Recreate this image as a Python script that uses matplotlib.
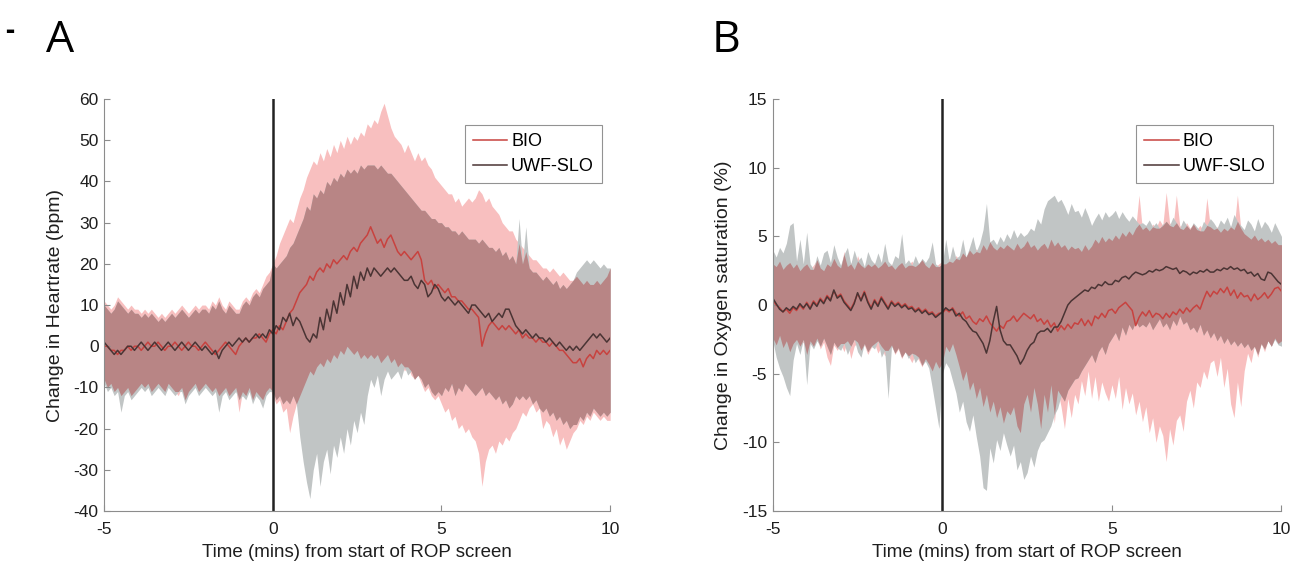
import numpy as np
import matplotlib
matplotlib.use("Agg")
import matplotlib.pyplot as plt

plt.rcParams["font.family"] = ["Liberation Sans", "DejaVu Sans"]
plt.rcParams["axes.unicode_minus"] = False

# time axis: -5 .. 10 min, one sample every 0.1 min
time_min = np.round(np.arange(151) * 0.1 - 5, 1)

# ---------------- Panel A: heart rate (bpm) ----------------
A_bio_hi = [
    11, 10, 9, 10, 12, 11, 10, 9, 10, 9,
    9, 8, 9, 8, 9, 8, 7, 8, 7, 8,
    9, 8, 9, 10, 9, 8, 9, 10, 9, 10,
    10, 9, 11, 10, 12, 10, 9, 11, 10, 9,
    9, 11, 12, 11, 13, 14, 13, 15, 17, 18,
    20, 22, 25, 27, 29, 31, 30, 33, 36, 38,
    41, 43, 45, 44, 47, 45, 48, 46, 49, 47,
    50, 48, 51, 49, 51, 50, 52, 51, 54, 53,
    55, 54, 57, 59, 56, 53, 51, 50, 49, 47,
    49, 47, 45, 47, 45, 46, 44, 43, 41, 40,
    39, 38, 37, 37, 35, 36, 34, 35, 36, 35,
    36, 38, 37, 35, 36, 34, 33, 32, 30, 29,
    28, 28, 26, 25, 24, 23, 22, 21, 21, 20,
    19, 19, 18, 19, 18, 17, 18, 17, 16, 16,
    17, 16, 15, 16, 15, 15, 16, 15, 16, 17,
    19]
A_bio_lo = [
    -8, -10, -9, -11, -10, -12, -11, -10, -12, -11,
    -10, -9, -10, -9, -11, -10, -9, -10, -11, -9,
    -10, -11, -12, -10, -13, -11, -10, -9, -11, -10,
    -9, -10, -11, -10, -12, -11, -10, -12, -11, -10,
    -16, -11, -12, -10, -13, -11, -12, -13, -11, -10,
    -12, -14, -13, -16, -15, -21, -17, -14, -12, -10,
    -8, -6, -7, -5, -4, -5, -3, -4, -2, -3,
    -1, -2, 0, -1, -2, -1, -3, -2, -3, -2,
    -3, -2, -4, -3, -2, -4, -3, -5, -4, -6,
    -5, -7, -8, -7, -9, -11, -10, -12, -13, -12,
    -14, -16, -15, -18, -17, -20, -19, -21, -20, -22,
    -23, -26, -34, -28, -25, -24, -26, -23, -24, -22,
    -23, -21, -20, -18, -16, -17, -15, -14, -16, -15,
    -20, -18, -19, -22, -20, -24, -22, -25, -23, -21,
    -20, -18, -19, -17, -18, -16, -17, -18, -17, -18,
    -18]
A_uwf_hi = [
    10, 9, 8, 9, 11, 10, 9, 8, 9, 8,
    8, 7, 8, 7, 8, 7, 6, 7, 6, 7,
    8, 7, 8, 9, 8, 7, 8, 9, 8, 9,
    9, 8, 10, 9, 11, 9, 8, 10, 9, 8,
    8, 10, 11, 10, 12, 13, 12, 14, 15, 16,
    20, 19, 20, 21, 22, 24, 25, 27, 29, 31,
    34, 33, 37, 36, 38, 37, 40, 39, 41, 40,
    42, 41, 43, 42, 43, 42, 44, 43, 44, 44,
    44, 43, 44, 43, 42, 42, 41, 40, 39, 38,
    37, 36, 35, 34, 33, 33, 32, 31, 31, 30,
    30, 29, 29, 28, 28, 27, 28, 27, 26, 26,
    26, 25, 26, 25, 24, 24, 23, 24, 22, 23,
    21, 22, 20, 31, 20, 29, 19, 18, 18, 17,
    16, 17, 16, 15, 16, 14, 15, 14, 15, 16,
    18, 19, 20, 21, 20, 21, 20, 19, 20, 19,
    19]
A_uwf_lo = [
    -9, -11, -10, -12, -11, -16, -12, -11, -13, -12,
    -11, -10, -11, -10, -12, -11, -10, -11, -12, -10,
    -11, -12, -11, -11, -14, -12, -11, -10, -12, -11,
    -10, -11, -12, -11, -16, -12, -11, -13, -12, -11,
    -13, -12, -13, -11, -14, -12, -13, -15, -12, -11,
    -11, -13, -12, -14, -13, -14, -12, -14, -22, -28,
    -33, -37, -30, -26, -34, -28, -25, -31, -24, -27,
    -22, -26, -20, -24, -18, -21, -16, -19, -12, -8,
    -10, -7, -12, -8, -6, -8, -7, -6, -8, -5,
    -7, -6, -8, -7, -8, -10, -9, -11, -12, -11,
    -12, -10, -11, -9, -12, -10, -11, -9, -10, -11,
    -12, -11, -10, -12, -11, -12, -13, -12, -14, -13,
    -15, -14, -12, -13, -12, -13, -12, -14, -13, -15,
    -16, -15, -17, -16, -18, -17, -19, -18, -20, -19,
    -19, -17, -18, -16, -17, -15, -16, -17, -16, -17,
    -16]
A_bio_mean = [
    0, 0, -1, -1, -2, -1, -1, 0, -1, 0,
    0, -1, 0, 1, 0, 0, 1, 0, -1, 0,
    0, 1, 0, -1, 0, 1, 0, 0, -1, 0,
    1, 0, -1, -2, -1, 0, 1, 0, -1, -2,
    0, 1, 2, 1, 2, 2, 3, 2, 1, 3,
    4, 3, 5, 4, 6, 8, 9, 11, 13, 14,
    15, 17, 16, 18, 19, 18, 20, 19, 21, 20,
    21, 22, 21, 23, 24, 23, 25, 26, 27, 29,
    27, 25, 26, 24, 26, 27, 25, 23, 22, 23,
    22, 21, 22, 23, 21, 16, 15, 16, 14, 15,
    14, 13, 14, 12, 12, 11, 11, 10, 9, 9,
    8, 7, 0, 3, 5, 6, 5, 4, 5, 4,
    5, 4, 3, 4, 2, 3, 2, 2, 1, 2,
    1, 1, 0, 1, 0, -1, -1, -2, -3, -4,
    -4, -3, -5, -3, -2, -3, -1, -2, -1, -2,
    -1]
A_uwf_mean = [
    1, 0, -1, -2, -1, -2, -1, 0, 0, -1,
    0, 1, 0, -1, 0, 1, 0, -1, 0, 1,
    0, -1, 0, 1, 0, -1, 0, 1, 0, -1,
    0, -1, -2, -1, -3, -1, 0, 1, 0, 1,
    2, 1, 2, 1, 2, 3, 2, 3, 2, 4,
    3, 5, 4, 7, 6, 8, 5, 7, 6, 4,
    2, 1, 3, 2, 7, 4, 9, 6, 11, 8,
    13, 10, 15, 12, 17, 14, 18, 16, 19, 17,
    19, 18, 17, 18, 19, 18, 19, 18, 17, 16,
    16, 17, 15, 14, 16, 15, 12, 13, 15, 14,
    12, 11, 12, 11, 10, 11, 10, 9, 8, 10,
    10, 9, 8, 7, 8, 6, 7, 8, 7, 9,
    9, 7, 5, 4, 3, 4, 3, 2, 3, 2,
    2, 1, 2, 1, 0, 1, 0, -1, 0, -1,
    0, -1, 0, 1, 2, 3, 2, 3, 2, 1,
    2]

# ---------------- Panel B: oxygen saturation (%) ----------------
B_bio_hi = [
    3.0, 2.8, 3.2, 2.6, 2.9, 3.1, 2.7, 3.0, 2.5, 2.8,
    3.0, 2.6, 2.9, 3.3, 2.7, 2.5, 3.0, 2.8, 3.4, 2.9,
    2.7, 3.9, 2.8, 3.1, 2.6, 3.6, 2.9, 2.7, 3.0, 2.8,
    3.1, 2.7, 2.9, 3.2, 2.8, 3.0, 2.6, 2.9, 3.1, 2.7,
    2.9, 3.2, 2.8, 3.0, 3.3, 2.9, 2.7, 3.1, 2.8, 3.0,
    3.2, 3.0, 3.4, 3.1, 3.6, 3.3, 3.8, 3.5, 4.0, 3.7,
    4.1, 3.8, 4.4, 4.0, 4.6, 4.2, 4.0, 4.3, 4.1, 4.4,
    4.2, 4.0, 4.5, 4.1, 4.3, 4.7, 4.2, 4.4, 4.0, 4.3,
    4.5, 4.1, 4.8, 4.3, 4.6, 4.2, 4.4, 4.0, 4.3, 4.1,
    4.2, 3.9, 4.4, 4.0, 4.3, 4.8, 4.5, 5.0, 4.6, 4.9,
    4.7, 5.1, 4.8, 5.3, 5.0, 5.4, 5.1, 5.6, 8.0, 5.5,
    5.7, 5.4, 5.9, 5.6, 6.2, 5.8, 8.2, 6.0, 5.7, 8.0,
    5.8, 5.5, 6.0, 5.6, 5.9, 5.5, 5.8, 5.4, 7.8, 5.7,
    5.5, 5.7, 5.3, 5.6, 5.4, 5.8, 5.5, 8.0, 5.6, 5.2,
    5.0, 4.8, 5.1, 4.7, 4.9, 4.6, 4.8, 4.5, 4.7, 4.4,
    4.4]
B_bio_lo = [
    -2.4, -2.9, -2.2, -3.1, -2.6, -3.4, -2.8, -2.5, -3.0, -2.7,
    -3.6, -2.6, -3.0, -2.4, -3.2, -2.7, -3.8, -4.4, -2.9, -3.3,
    -2.8, -3.4, -2.6, -3.9, -3.0, -2.7, -3.3, -2.9, -3.6, -3.1,
    -2.8, -3.5, -3.0, -3.7, -3.3, -2.9, -3.6, -3.2, -3.9, -3.4,
    -3.7, -4.2, -3.6, -4.0, -4.5, -3.9, -4.3, -4.8, -4.1, -4.6,
    -4.2, -3.0, -3.4, -2.8, -3.6, -4.5, -5.5, -4.8, -6.2, -5.6,
    -6.8, -6.0, -7.4, -6.5, -7.8, -7.0, -8.2, -7.4, -8.6, -7.7,
    -8.0, -7.4, -8.8, -9.3, -7.2, -6.5, -7.8, -6.0, -7.2, -9.0,
    -6.5, -7.8, -5.8, -8.6, -6.2, -7.4, -9.0, -6.8, -8.2, -6.5,
    -7.2, -5.5, -6.6, -4.8, -6.8, -5.2, -7.0, -5.6, -6.4, -7.0,
    -5.8, -6.8, -5.2, -7.6, -6.0, -7.2, -6.4, -8.0, -7.0, -8.5,
    -7.4, -9.3, -8.2, -10.0, -8.8, -9.5, -11.4, -9.0, -10.2, -8.4,
    -8.0, -9.2, -7.0, -6.2, -7.5, -5.6, -6.0, -4.8, -5.4, -4.2,
    -4.0, -5.2, -3.8, -6.0, -4.6, -7.2, -8.2, -5.6, -7.4, -4.8,
    -3.5, -4.2, -3.0, -3.8, -2.8, -3.4, -2.6, -3.0, -2.4, -2.8,
    -2.6]
B_uwf_hi = [
    4.0, 3.5, 4.2, 3.8, 4.5, 5.8, 6.0, 3.2, 4.8, 3.0,
    5.3, 3.0, 2.6, 3.6, 2.9, 3.8, 4.0, 3.1, 4.4, 3.5,
    2.9, 3.7, 4.2, 3.0, 4.0, 3.2, 3.5, 2.8, 3.9, 3.3,
    3.0, 3.8, 3.1, 4.5, 3.2, 2.9, 3.6, 3.4, 5.2, 3.0,
    3.3, 2.9, 3.6, 3.0, 3.4, 3.1, 3.5, 4.6, 3.0, 2.8,
    3.0, 4.8, 3.2, 4.3, 3.4, 3.6, 4.8, 3.5, 4.2, 5.0,
    3.9, 4.5, 5.5, 7.4, 4.6, 4.8, 4.4, 5.0, 4.6, 5.2,
    4.8, 5.5, 4.9, 5.3, 5.0, 5.2, 5.6, 5.4, 6.3, 5.9,
    7.0, 7.6, 7.8, 8.0, 7.5, 7.7, 7.2, 6.6, 7.4, 6.8,
    6.9, 6.4, 7.1, 6.5, 5.8, 6.3, 6.7, 6.2, 6.8, 6.4,
    6.6, 6.9, 6.3, 6.8, 6.4, 6.1, 6.5, 6.2, 5.9, 6.0,
    5.8, 6.2, 5.7, 6.0, 5.6, 5.9, 6.1, 5.8, 6.4, 6.0,
    5.6, 6.2, 5.8, 5.5, 6.0, 5.7, 5.4, 6.1, 5.8, 6.3,
    6.0, 5.6, 6.2, 5.9, 6.4, 5.7, 6.6, 6.1, 5.8, 5.5,
    6.2, 5.9, 5.4, 6.3, 5.6, 6.1, 5.8, 5.3, 6.0, 5.5,
    5.0]
B_uwf_lo = [
    -2.6, -3.8, -4.6, -5.2, -6.0, -6.6, -4.0, -2.8, -3.6, -2.5,
    -5.8, -2.8, -3.2, -2.6, -3.0, -2.4, -3.0, -3.6, -2.7, -3.1,
    -3.3, -2.8, -3.6, -3.0, -2.5, -3.4, -3.8, -2.8, -3.4, -3.0,
    -3.2, -2.6, -3.8, -3.3, -6.8, -3.0, -3.5, -3.1, -3.8, -3.4,
    -3.9, -3.5, -4.2, -3.8, -4.4, -4.1, -4.6, -6.0, -7.5, -9.0,
    -5.0, -4.2, -4.6, -5.5, -6.4, -7.8, -7.0, -8.5, -9.2, -8.0,
    -9.6, -11.0, -13.3, -13.5, -10.4, -11.5, -9.8, -10.6, -9.3, -10.2,
    -11.0, -10.2, -12.0, -11.4, -12.7, -12.2, -11.0, -11.8, -10.6, -10.0,
    -9.8, -9.3, -8.8, -8.0, -7.5, -6.6, -7.0, -6.2, -5.8, -5.4,
    -5.3, -4.8, -4.4, -4.0, -3.6, -4.2, -3.4, -3.0, -3.6, -2.8,
    -2.4, -2.0, -2.6, -1.6, -2.2, -1.4, -1.8, -1.2, -1.6, -1.4,
    -1.6, -1.2, -1.8, -1.4, -1.0, -1.6, -1.3, -1.8, -1.1, -1.5,
    -0.8, -1.4, -1.2, -1.8, -1.6, -2.0, -1.4, -2.2, -1.8, -2.4,
    -2.0, -2.6, -2.2, -2.8, -2.4, -2.9, -2.6, -3.0, -2.7, -3.1,
    -2.8, -3.3, -3.0, -3.6, -2.8, -3.2, -2.6, -3.0, -2.5, -2.9,
    -3.0]
B_bio_mean = [
    0.4, 0.0, -0.2, -0.5, -0.3, -0.6, -0.2, -0.4, 0.0, -0.3,
    0.2, -0.2, 0.3, 0.0, 0.5, 0.2, 0.7, 0.4, 1.0, 0.6,
    0.8, 0.3, 0.0, -0.3, 0.2, 0.8, 0.4, 1.0, 0.3, -0.2,
    0.4, 0.0, 0.6, 0.2, -0.2, 0.3, 0.0, 0.2, -0.1, 0.1,
    -0.2, -0.1, -0.4, -0.2, -0.5, -0.3, -0.6, -0.5, -0.8, -0.6,
    -0.6, -0.3, -0.5, -0.2, -0.6, -0.8, -0.5, -1.0, -0.8, -1.2,
    -1.4, -1.0, -1.2, -0.8, -1.3, -1.6, -1.9, -1.5, -1.7, -1.2,
    -1.1, -0.8, -1.2, -0.9, -0.6, -0.8, -1.0, -0.7, -1.2, -1.0,
    -1.4, -1.1, -1.6, -1.3, -1.9, -1.5, -1.8, -1.4, -1.7, -1.3,
    -1.4, -1.0, -1.5, -1.1, -1.5, -0.8, -1.0, -0.6, -0.9, -0.4,
    -0.3, -0.6, -0.2, 0.0, 0.2, -0.1, -0.4, -1.5, -0.9, -0.5,
    -0.8, -0.4, -0.9, -0.6, -0.7, -1.0, -0.6, -0.9, -0.5, -0.7,
    -0.3, -0.6, -0.2, -0.5, -0.2, 0.0, -0.3, 0.4, 1.0, 0.6,
    1.0, 0.8, 1.2, 0.9, 1.3, 0.7, 1.1, 0.5, 0.9, 0.6,
    0.7, 0.3, 0.8, 0.4, 0.6, 0.9, 0.5, 0.8, 1.2, 1.3,
    1.0]
B_uwf_mean = [
    0.5, 0.1, -0.3, -0.5, -0.2, -0.4, -0.1, -0.3, 0.1, -0.2,
    0.1, -0.3, 0.2, -0.1, 0.4, 0.1, 0.6, 0.3, 1.1, 0.5,
    0.7, 0.2, -0.1, -0.4, 0.1, 0.9, 0.3, 0.9, 0.2, -0.3,
    0.3, -0.1, 0.5, 0.1, -0.3, 0.2, -0.1, 0.1, -0.2, 0.0,
    -0.3, -0.2, -0.5, -0.3, -0.6, -0.4, -0.7, -0.6, -0.9, -0.7,
    -0.5, -0.2, -0.4, -0.3, -0.8, -0.6, -1.0, -1.2, -1.6, -1.9,
    -2.0, -2.4, -2.8, -3.5, -2.6, -1.2, -0.1, -1.8, -2.6, -2.9,
    -2.9, -3.3, -3.7, -4.3, -3.9, -3.3, -2.9, -2.7, -2.1, -1.9,
    -1.9, -1.7, -2.0, -1.6, -1.6, -1.2, -0.6, 0.0, 0.3, 0.5,
    0.7, 0.9, 1.1, 1.0, 1.3, 1.2, 1.5, 1.4, 1.7, 1.5,
    1.5, 1.8, 1.7, 2.0, 2.1, 1.9, 2.2, 2.4, 2.3, 2.2,
    2.3, 2.5, 2.4, 2.6, 2.5, 2.6, 2.8, 2.7, 2.6, 2.7,
    2.3, 2.5, 2.4, 2.2, 2.4, 2.3, 2.5, 2.4, 2.6, 2.4,
    2.4, 2.6, 2.5, 2.7, 2.6, 2.8, 2.6, 2.7, 2.5, 2.6,
    2.3, 2.4, 2.1, 2.3, 1.9, 1.8, 2.4, 2.3, 2.0, 1.7,
    1.5]

PINK = "#f8bfbf"
GRAY = "#c1c5c5"
OVERLAP = "#b88585"
RED = "#c8423f"
DARK = "#4a3434"
AXIS_GRAY = "#8c8c8c"
TEXT = "#1e1e1e"


def draw_panel(ax, bio_lo, bio_hi, uwf_lo, uwf_hi, bio_m, uwf_m, ylim, yticks, ylabel):
    bio_lo, bio_hi = np.array(bio_lo), np.array(bio_hi)
    uwf_lo, uwf_hi = np.array(uwf_lo), np.array(uwf_hi)
    ov_lo = np.maximum(bio_lo, uwf_lo)
    ov_hi = np.minimum(bio_hi, uwf_hi)

    ax.fill_between(time_min, bio_lo, bio_hi, color=PINK, lw=0)
    ax.fill_between(time_min, uwf_lo, uwf_hi, color=GRAY, lw=0)
    ax.fill_between(time_min, ov_lo, ov_hi, where=ov_hi > ov_lo,
                    interpolate=True, color=OVERLAP, lw=0)

    ax.plot(time_min, bio_m, color=RED, lw=1.1, label="BIO")
    ax.plot(time_min, uwf_m, color=DARK, lw=1.1, label="UWF-SLO")
    ax.axvline(0, color="#222222", lw=1.8)

    ax.set_xlim(-5, 10)
    ax.set_ylim(*ylim)
    ax.set_xticks([-5, 0, 5, 10])
    ax.set_yticks(yticks)
    ax.set_xlabel("Time (mins) from start of ROP screen", fontsize=13.5, color=TEXT,
                  labelpad=5)
    ax.set_ylabel(ylabel, fontsize=14, color=TEXT, labelpad=7)
    for s in ["top", "right"]:
        ax.spines[s].set_visible(False)
    for s in ["left", "bottom"]:
        ax.spines[s].set_color(AXIS_GRAY)
    ax.tick_params(direction="in", length=4, color=AXIS_GRAY, labelsize=12.5,
                   labelcolor=TEXT, pad=4)
    ax.tick_params(axis="x", pad=8)
    leg = ax.legend(loc="upper right", bbox_to_anchor=(0.984, 0.937), borderaxespad=0,
                    fontsize=13, frameon=True, fancybox=False, handlelength=1.9,
                    handletextpad=0.2, borderpad=0.45, labelspacing=0.45)
    leg.get_frame().set_edgecolor("#777777")
    leg.get_frame().set_linewidth(0.8)


fig = plt.figure(figsize=(13.01, 5.65), dpi=100)
axA = fig.add_axes([0.080, 0.0956, 0.389, 0.729])
axB = fig.add_axes([0.594, 0.0956, 0.391, 0.729])

draw_panel(axA, A_bio_lo, A_bio_hi, A_uwf_lo, A_uwf_hi, A_bio_mean, A_uwf_mean,
           (-40, 60), range(-40, 61, 10), "Change in Heartrate (bpm)")
draw_panel(axB, B_bio_lo, B_bio_hi, B_uwf_lo, B_uwf_hi, B_bio_mean, B_uwf_mean,
           (-15, 15), range(-15, 16, 5), "Change in Oxygen saturation (%)")

fig.text(0.046, 0.928, "A", fontsize=32, family=["Open Sans", "DejaVu Sans"], ha="center", va="center")
fig.text(0.558, 0.928, "B", fontsize=32, family=["Open Sans", "DejaVu Sans"], ha="center", va="center")
fig.text(0.004, 0.945, "-", fontsize=20, fontweight="bold", family=["Open Sans", "DejaVu Sans"],
         ha="left", va="center")

fig.savefig("out.png", dpi=100)
